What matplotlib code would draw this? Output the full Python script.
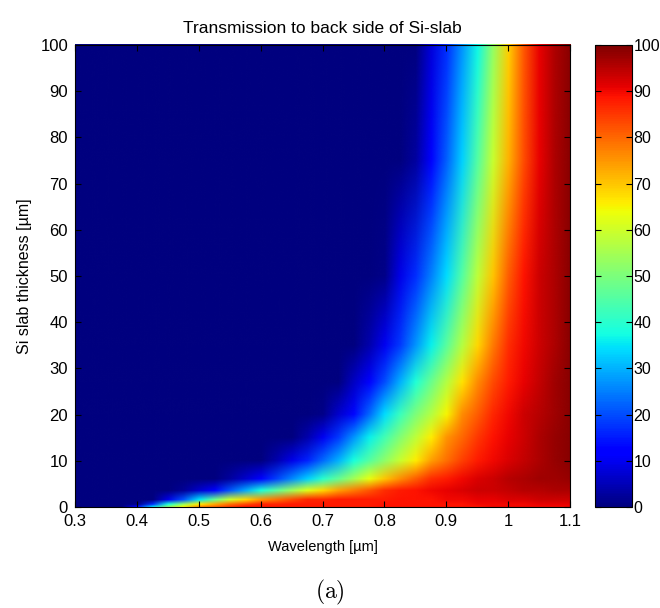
import numpy as np
import matplotlib
matplotlib.use("Agg")
import matplotlib.pyplot as plt
from matplotlib.image import NonUniformImage
from matplotlib.colors import Normalize

plt.rcParams['font.family'] = ['Liberation Sans', 'DejaVu Sans']
plt.rcParams['mathtext.fontset'] = 'cm'

# Wavelength grid [um]
wavelengths = [0.300, 0.325, 0.350, 0.375, 0.400, 0.425, 0.450, 0.475, 0.500, 0.525,
               0.550, 0.575, 0.600, 0.625, 0.650, 0.675, 0.700, 0.725, 0.750, 0.775,
               0.800, 0.825, 0.850, 0.875, 0.900, 0.925, 0.950, 0.975, 1.000, 1.025,
               1.050, 1.075, 1.100]
# Thickness grid [um]
thicknesses = [0, 0.5, 1.5, 3.5, 6, 10, 15, 20, 27, 35, 50, 75, 100]

# Transmission [%], one row per thickness
T_0   = [0]*4 + [12, 33, 50, 64, 75, 79, 84, 88, 88, 88, 88, 88, 88, 88, 88, 88,
                 89, 89, 89, 89, 89, 89, 89, 90, 90, 90, 90, 90, 90]
T_0p5 = [0]*4 + [1, 17, 38, 53, 66, 73, 79, 83, 87, 87, 88, 88, 88, 88, 88, 88,
                 89, 89, 89, 89, 89, 89, 90, 90, 90, 90, 91, 91, 91]
T_1p5 = [0]*6 + [9, 21, 35, 48, 60, 68, 75, 79, 83, 87, 87, 88, 88, 88, 88,
                 89, 89, 89, 90, 90, 91, 91, 92, 92, 93, 93, 93]
T_3p5 = [0]*7 + [2, 7, 12, 21, 29, 38, 46, 54, 62, 68, 74, 78, 82, 86, 88, 89,
                 90, 91, 92, 93, 93, 94, 95, 95, 96, 96]
T_6   = [0]*10 + [3, 7, 12, 19, 26, 33, 40, 47, 55, 63, 70, 76, 81, 86, 88, 90,
                  92, 93, 95, 96, 97, 97, 98]
T_10  = [0]*13 + [4, 9, 16, 23, 30, 38, 45, 52, 59, 66, 74, 79, 84, 88, 90, 92,
                  94, 96, 98, 99]
T_15  = [0]*15 + [4, 10, 18, 27, 36, 43, 51, 58, 66, 75, 80, 85, 89, 91, 93, 96,
                  98, 99]
T_20  = [0]*16 + [1, 7, 13, 23, 34, 42, 50, 57, 65, 76, 81, 87, 90, 93, 95, 97, 99]
T_27  = [0]*18 + [6, 11, 20, 30, 39, 48, 57, 67, 76, 83, 88, 91, 94, 97, 99]
T_35  = [0]*19 + [4, 10, 18, 27, 36, 46, 57, 68, 78, 86, 90, 93, 96, 99]
T_50  = [0]*20 + [1, 9, 17, 25, 34, 45, 58, 70, 81, 89, 93, 96, 99]
T_75  = [0]*22 + [3, 11, 22, 33, 45, 59, 72, 83, 91, 96, 99]
T_100 = [0]*23 + [8, 17, 27, 37, 53, 69, 82, 91, 96, 99]

T = np.array([T_0, T_0p5, T_1p5, T_3p5, T_6, T_10, T_15, T_20, T_27, T_35,
              T_50, T_75, T_100], dtype=float)

xticks = [0.3, 0.4, 0.5, 0.6, 0.7, 0.8, 0.9, 1.0, 1.1]
xticklabels = ['0.3', '0.4', '0.5', '0.6', '0.7', '0.8', '0.9', '1', '1.1']
yticks = list(range(0, 101, 10))
cticks = list(range(0, 101, 10))

fig = plt.figure(figsize=(6.6, 6.08), dpi=100)
ax = fig.add_axes([75/660, 1-507/608, 495/660, 462/608])
cax = fig.add_axes([595/660, 1-507/608, 37/660, 462/608])

norm = Normalize(vmin=0, vmax=100)
im = NonUniformImage(ax, interpolation='bilinear', cmap='jet', norm=norm,
                     extent=(0.3, 1.1, 0, 100))
im.set_data(np.array(wavelengths), np.array(thicknesses), T)
ax.add_image(im)
ax.set_xlim(0.3, 1.1)
ax.set_ylim(0, 100)
ax.set_xticks(xticks)
ax.set_xticklabels(xticklabels)
ax.set_yticks(yticks)
ax.tick_params(direction='in', top=True, right=True, labelsize=12, length=4, pad=5)
ax.set_title('Transmission to back side of Si-slab', fontsize=12.5, pad=9)
ax.set_xlabel('Wavelength [\u00b5m]', fontsize=10.5, labelpad=8)
ax.set_ylabel('Si slab thickness [\u00b5m]', fontsize=11.5, labelpad=6)

cb = fig.colorbar(im, cax=cax, ticks=cticks)
cb.outline.set_linewidth(0.8)
cax.tick_params(direction='in', left=True, right=True, labelsize=11.5, length=4, pad=1)

fig.text(0.5, 1-592/608, r'$\mathrm{(a)}$', ha='center', va='center', fontsize=17)

fig.savefig('out.png', dpi=100)
